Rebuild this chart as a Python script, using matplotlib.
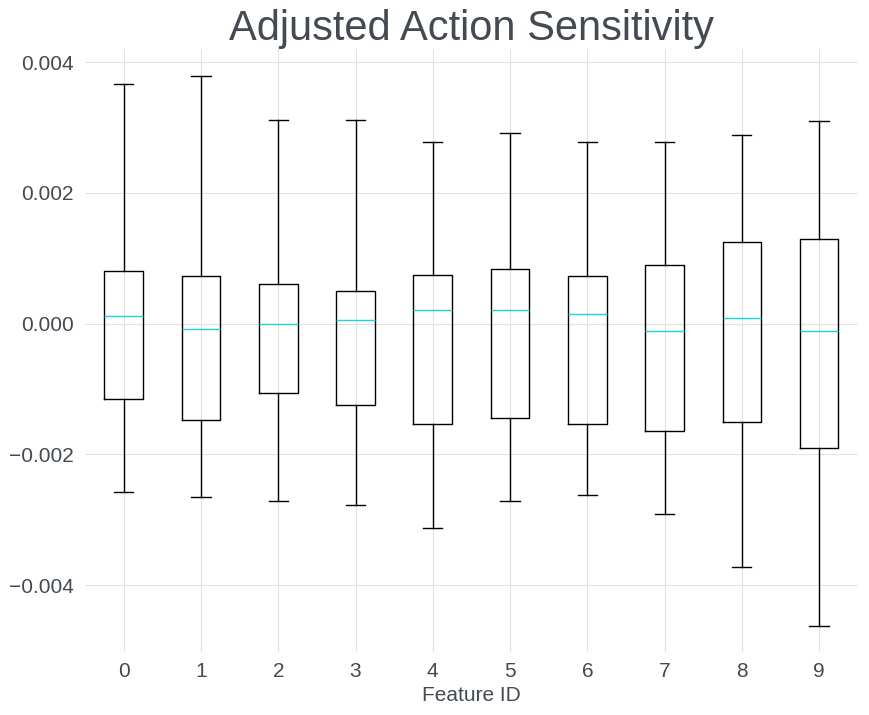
import numpy as np
import matplotlib
matplotlib.use("Agg")
import matplotlib.pyplot as plt

plt.rcParams['font.family'] = ['Liberation Sans', 'DejaVu Sans']

# values (x 1e-3)
feature_ids = [0, 1, 2, 3, 4, 5, 6, 7, 8, 9]
whis_hi = [3.67, 3.78, 3.12, 3.12, 2.78, 2.91, 2.77, 2.78, 2.89, 3.10]
q3 = [0.80, 0.73, 0.60, 0.50, 0.75, 0.83, 0.72, 0.89, 1.25, 1.30]
med = [0.12, -0.09, 0.00, 0.05, 0.20, 0.20, 0.14, -0.12, 0.08, -0.12]
q1 = [-1.15, -1.47, -1.06, -1.24, -1.53, -1.45, -1.53, -1.64, -1.50, -1.91]
whis_lo = [-2.57, -2.65, -2.72, -2.77, -3.13, -2.71, -2.63, -2.92, -3.72, -4.62]

stats = []
for i in range(len(feature_ids)):
    stats.append({'label': str(feature_ids[i]),
                  'whishi': whis_hi[i] * 1e-3, 'q3': q3[i] * 1e-3,
                  'med': med[i] * 1e-3, 'q1': q1[i] * 1e-3,
                  'whislo': whis_lo[i] * 1e-3, 'fliers': []})

txt_col = '#444a53'
fig = plt.figure(figsize=(8.69, 7.15), dpi=100)
ax = fig.add_axes([0.098, 0.0881, 0.889, 0.8434])
ax.bxp(stats, positions=range(len(feature_ids)), widths=0.5, showfliers=False,
       boxprops=dict(color='black', linewidth=1.0),
       whiskerprops=dict(color='black', linewidth=1.0),
       capprops=dict(color='black', linewidth=1.0),
       medianprops=dict(color='#1cd6d6', linewidth=1.0))

ax.set_xlim(-0.5, 9.5)
ax.set_ylim(-0.005025, 0.0042)
ax.set_yticks([-0.004, -0.002, 0.0, 0.002, 0.004])
ax.set_yticklabels(['\u22120.004', '\u22120.002', '0.000', '0.002', '0.004'])
ax.grid(True, color='#e3e3e3', linewidth=0.8)
ax.set_axisbelow(True)
for s in ax.spines.values():
    s.set_visible(False)
ax.tick_params(length=0, labelsize=15, colors=txt_col)
ax.tick_params(axis='x', pad=7)
ax.tick_params(axis='y', pad=8)
ax.set_xlabel('Feature ID', fontsize=15, color=txt_col, labelpad=4)
ax.set_title('Adjusted Action Sensitivity', fontsize=30, color=txt_col, pad=4)

fig.savefig('out.png', dpi=100)
